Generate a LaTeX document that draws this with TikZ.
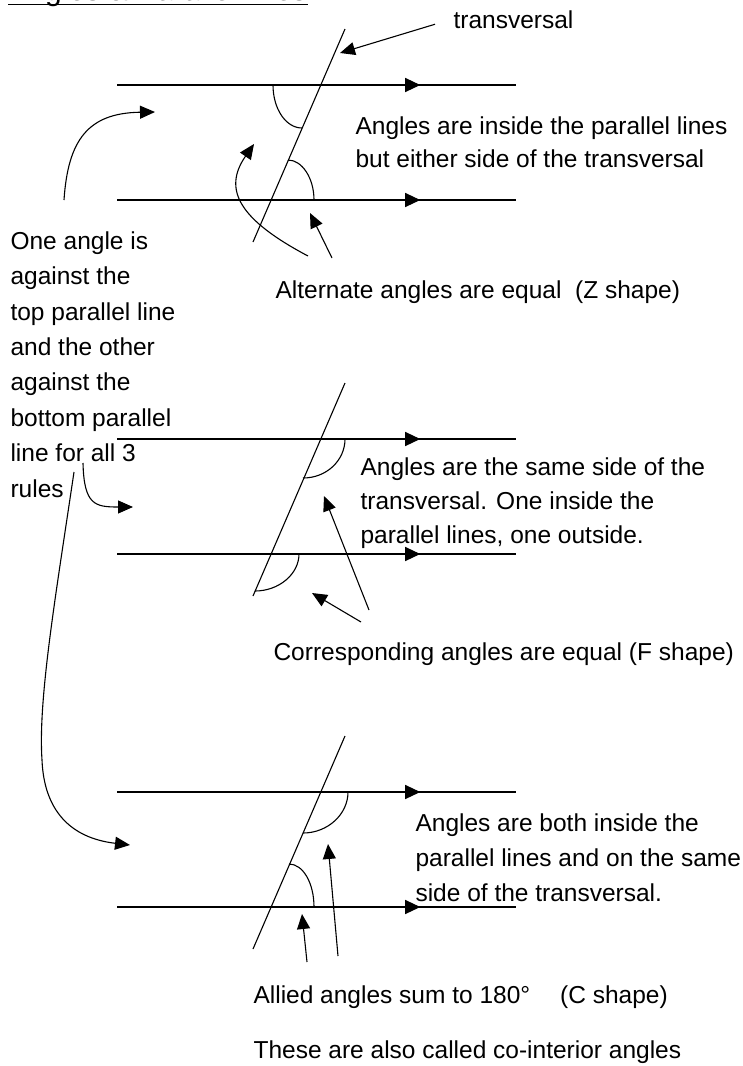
\documentclass[tikz,border=0pt]{standalone}
\usepackage{fontspec}
\setmainfont{Liberation Sans}
\usepackage{tikz}
\usetikzlibrary{arrows.meta,decorations.markings}

\begin{document}
\begin{tikzpicture}[x=1pt,y=-1pt,line width=1.1pt,
    txt/.style={anchor=base west,inner sep=0pt,align=left,font=\fontsize{24.5}{35}\selectfont},
    arr/.style={-{Triangle[length=15pt,width=13pt]}},
    pline/.style={postaction={decorate},decoration={markings,
        mark=at position 0.76 with {\arrow{Triangle[length=15pt,width=14pt]}}}}]

    \useasboundingbox (0,0) rectangle (742,1066);

    % Title, cut by the top edge
    \node[anchor=base west,inner sep=0pt,font=\fontsize{30}{36}\selectfont] (title) at (8,0) {Angles \& Parallel lines};
    \draw[line width=1.6pt] ([yshift=-4.5pt]title.base west) -- ([yshift=-4.5pt]title.base east);

    % Three pairs of parallel lines, each cut by a transversal
    \foreach \d in {0,354,707}{
        \draw[pline] (117,85+\d) -- (516,85+\d);
        \draw[pline] (117,200+\d) -- (516,200+\d);
        \draw (253,242+\d) -- (345,29+\d);
    }

    % Angle marks: alternate, corresponding, allied
    \draw (273,85) .. controls (273,109) and (286,128) .. (302,128);
    \draw (314,200) .. controls (314,178) and (302,160) .. (288,160);
    \draw (345,439) .. controls (345,460) and (327,478) .. (303,478);
    \draw (299,554) .. controls (299,574) and (279,591) .. (255,591);
    \draw (348,792) .. controls (348,814) and (328,833) .. (303,833);
    \draw (314,907) .. controls (314,883) and (303,864) .. (289,864);

    % Label of the transversal
    \node[txt] (lblTrans) at (453,28) {transversal};
    \coordinate (transTip) at (340,53);
    \draw[arr] ([xshift=-18pt,yshift=-5pt]lblTrans.west) -- (transTip);

    % Note on the left with its three arrows (base = last line)
    \node[txt,font=\fontsize{24.5}{35.4}\selectfont] (ruleNote) at (10,497)
        {One angle is\\against the\\top parallel line\\and the other\\against the\\bottom parallel\\line for all 3\\rules};
    \coordinate (noteA) at (64,200);
    \coordinate (noteB) at (83,463);
    \coordinate (noteC) at (74,472);
    \coordinate (tipA) at (155,112);
    \coordinate (tipB) at (133,507);
    \coordinate (tipC) at (130,845);
    \draw[arr] (noteA) .. controls (68,140) and (88,113) .. (tipA);
    \draw[arr] (noteB) .. controls (84,505) and (95,507) .. (tipB);
    \draw[arr] (noteC) .. controls (55,600) and (38,700) .. (42,760) .. controls (44,810) and (70,838) .. (tipC);

    % Alternate angles
    \node[txt,font=\fontsize{24.5}{32.5}\selectfont] (altNote) at (355,167)
        {Angles are inside the parallel lines\\but either side of the transversal};
    \node[txt] (altRule) at (275,298) {Alternate angles are equal~~(Z shape)};
    \coordinate (altTailA) at (308,256);
    \coordinate (altTailB) at (332,258);
    \coordinate (altTipA) at (254,144);
    \coordinate (altTipB) at (310,213);
    \draw[arr] (altTailA) .. controls (240,220) and (222,190) .. (altTipA);
    \draw[arr] (altTailB) -- (altTipB);

    % Corresponding angles
    \node[txt,font=\fontsize{24.5}{34}\selectfont] (corNote) at (360,543)
        {Angles are the same side of the\\transversal. One inside the\\parallel lines, one outside.};
    \node[txt] (corRule) at (273,660) {Corresponding angles are equal (F shape)};
    \coordinate (corTailA) at (369,610);
    \coordinate (corTailB) at (361,622);
    \coordinate (corTipA) at (324,496);
    \coordinate (corTipB) at (312,593);
    \draw[arr] (corTailA) -- (corTipA);
    \draw[arr] (corTailB) -- (corTipB);

    % Allied (co-interior) angles
    \node[txt] (allNote) at (415,901)
        {Angles are both inside the\\parallel lines and on the same\\side of the transversal.};
    \node[txt] (allRule) at (253,1003) {Allied angles sum to 180°\hspace{30pt}(C shape)};
    \node[txt] (allName) at (253,1058) {These are also called co-interior angles};
    \coordinate (allTailA) at (307,962);
    \coordinate (allTailB) at (338,956);
    \coordinate (allTipA) at (302,914);
    \coordinate (allTipB) at (328,844);
    \draw[arr] (allTailA) -- (allTipA);
    \draw[arr] (allTailB) -- (allTipB);

\end{tikzpicture}
\end{document}
